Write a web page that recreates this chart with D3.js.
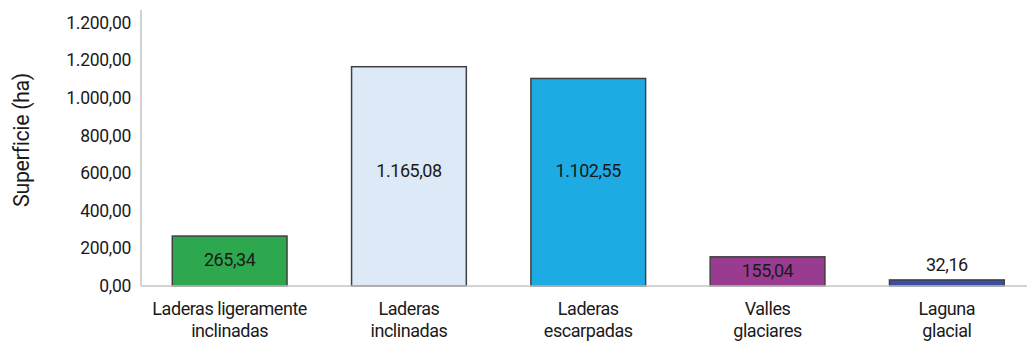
<!DOCTYPE html>
<html>
<head>
<meta charset="utf-8">
<script src="https://cdn.jsdelivr.net/npm/d3@7"></script>
<style>
  body { margin: 0; background: #fff; }
  text { font-family: Roboto, "Noto Sans", sans-serif; fill: #1a1a1a; }
</style>
</head>
<body>
<div id="chart"></div>
<script>
// data
const categories = [
  ['Laderas ligeramente', 'inclinadas'],
  ['Laderas', 'inclinadas'],
  ['Laderas', 'escarpadas'],
  ['Valles', 'glaciares'],
  ['Laguna', 'glacial']
];
const values = [265.34, 1165.08, 1102.55, 155.04, 32.16];
const barColors = ['#2ea84f', '#dde9f6', '#1eabe4', '#9a3b92', '#3a4ea6'];
const tickValues = [0, 200, 400, 600, 800, 1000, 1200, 1400];
// the original chart repeats 1.200,00 on its top tick
const tickLabels = ['0,00', '200,00', '400,00', '600,00', '800,00', '1.000,00', '1.200,00', '1.200,00'];

const W = 1027, H = 344;
const margin = {t:22.5, r:0, b:58, l:141};

const svg = d3.select('#chart')
  .append('svg')
  .attr('width', W)
  .attr('height', H);

const fmt = d3.formatLocale({decimal: ',', thousands: '.', grouping: [3], currency: ['', '']}).format(',.2f');

const x = d3.scaleBand()
  .domain(d3.range(categories.length))
  .range([margin.l - 1, margin.l - 1 + 179.3 * categories.length])
  .paddingInner(0.36)
  .paddingOuter(0.18);

const y = d3.scaleLinear()
  .domain([0, 1400])
  .range([H - margin.b, margin.t]);

// y axis
const yAxis = svg.append('g')
  .attr('transform', `translate(${margin.l},0)`)
  .call(d3.axisLeft(y).tickValues(tickValues).tickSize(0).tickPadding(10)
    .tickFormat((d, i) => tickLabels[i]));
yAxis.select('.domain').remove();
yAxis.selectAll('text')
  .style('font-size', '17.5px')
  .style('letter-spacing', '-0.3px')
  .attr('fill', '#1a1a1a');

svg.append('line')
  .attr('x1', margin.l).attr('x2', margin.l)
  .attr('y1', 10).attr('y2', y(0))
  .attr('stroke', '#c4c4c4').attr('stroke-width', 1.5);

// bars
svg.selectAll('.bar')
  .data(values)
  .enter()
  .append('rect')
  .attr('class', 'bar')
  .attr('x', (d, i) => x(i))
  .attr('width', x.bandwidth())
  .attr('y', d => y(d))
  .attr('height', d => y(0) - y(d))
  .attr('fill', (d, i) => barColors[i])
  .attr('stroke', '#404040')
  .attr('stroke-width', 1.5);

// x baseline
svg.append('line')
  .attr('x1', margin.l).attr('x2', W)
  .attr('y1', y(0)).attr('y2', y(0))
  .attr('stroke', '#c4c4c4').attr('stroke-width', 1.5);

// value labels: tall bars share one label height, short ones centred, tiny above
svg.selectAll('.val')
  .data(values)
  .enter()
  .append('text')
  .attr('class', 'val')
  .attr('x', (d, i) => x(i) + x.bandwidth() / 2)
  .attr('y', d => {
    const h = y(0) - y(d);
    if (h < 20) return y(d) - 15;
    if (h > 150) return y(610);
    return (y(d) + y(0)) / 2 - 1;
  })
  .attr('dy', '0.35em')
  .attr('text-anchor', 'middle')
  .style('font-size', '18px')
  .style('letter-spacing', '-0.45px')
  .text(d => fmt(d));

// category labels
const cat = svg.selectAll('.cat')
  .data(categories)
  .enter()
  .append('text')
  .attr('class', 'cat')
  .attr('text-anchor', 'middle')
  .style('font-size', '18px')
  .style('letter-spacing', '-0.45px')
  .attr('transform', (d, i) => `translate(${x(i) + x.bandwidth() / 2},${y(0) + 29})`);
cat.selectAll('tspan')
  .data(d => d)
  .enter()
  .append('tspan')
  .attr('x', 0)
  .attr('dy', (d, i) => i === 0 ? 0 : 22)
  .text(d => d);

// y title
svg.append('text')
  .attr('transform', `translate(29,140) rotate(-90)`)
  .attr('text-anchor', 'middle')
  .style('font-size', '21.5px')
  .style('letter-spacing', '-0.4px')
  .text('Superficie (ha)');
</script>
</body>
</html>
